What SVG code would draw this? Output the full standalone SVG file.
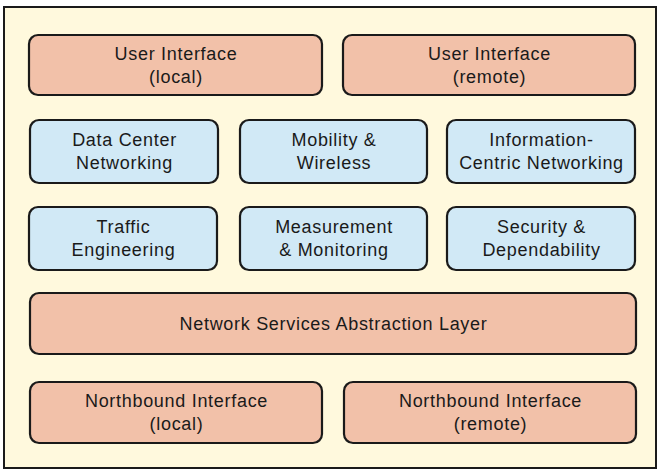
<svg xmlns="http://www.w3.org/2000/svg" width="660" height="471" viewBox="0 0 660 471">
<style>
.frame{fill:#FFF9DD;stroke:#1a1a1a;stroke-width:2}
.s{fill:#F2C1A9;stroke:#1a1a1a;stroke-width:2.2}
.b{fill:#D1E9F6;stroke:#1a1a1a;stroke-width:2.2}
text{font-family:"Liberation Sans",Arial,sans-serif;font-size:18px;letter-spacing:0.7px;fill:#1a1a1a;text-anchor:middle}
</style>
<rect x="0" y="0" width="660" height="471" fill="#ffffff"/>
<rect class="frame" x="4" y="7" width="652" height="461"/>
<g id="ui-local"><rect class="s" x="29" y="35" width="293" height="60" rx="9"/><text x="176" y="60">User Interface</text><text x="176" y="83">(local)</text></g>
<g id="ui-remote"><rect class="s" x="343" y="35" width="292" height="60" rx="9"/><text x="489.5" y="60">User Interface</text><text x="489.5" y="83">(remote)</text></g>
<g id="dcn"><rect class="b" x="30" y="120" width="188" height="63" rx="9"/><text x="124.5" y="146">Data Center</text><text x="124.5" y="169">Networking</text></g>
<g id="mobility"><rect class="b" x="240" y="120" width="187" height="63" rx="9"/><text x="334" y="146">Mobility &amp;</text><text x="334" y="169">Wireless</text></g>
<g id="icn"><rect class="b" x="447" y="120" width="188" height="63" rx="9"/><text x="541.5" y="146">Information-</text><text x="541.5" y="169">Centric Networking</text></g>
<g id="traffic"><rect class="b" x="29" y="207" width="188" height="63" rx="9"/><text x="123.5" y="233">Traffic</text><text x="123.5" y="256">Engineering</text></g>
<g id="measurement"><rect class="b" x="240" y="207" width="187" height="63" rx="9"/><text x="334" y="233">Measurement</text><text x="334" y="256">&amp; Monitoring</text></g>
<g id="security"><rect class="b" x="447" y="207" width="188" height="63" rx="9"/><text x="541.5" y="233">Security &amp;</text><text x="541.5" y="256">Dependability</text></g>
<g id="nsal"><rect class="s" x="30" y="293" width="606" height="61" rx="9"/><text x="333.5" y="330">Network Services Abstraction Layer</text></g>
<g id="nb-local"><rect class="s" x="30" y="382" width="292" height="61" rx="9"/><text x="176.5" y="407">Northbound Interface</text><text x="176.5" y="430">(local)</text></g>
<g id="nb-remote"><rect class="s" x="344" y="382" width="292" height="61" rx="9"/><text x="490.5" y="407">Northbound Interface</text><text x="490.5" y="430">(remote)</text></g>
<g id="connectors"></g>
</svg>
